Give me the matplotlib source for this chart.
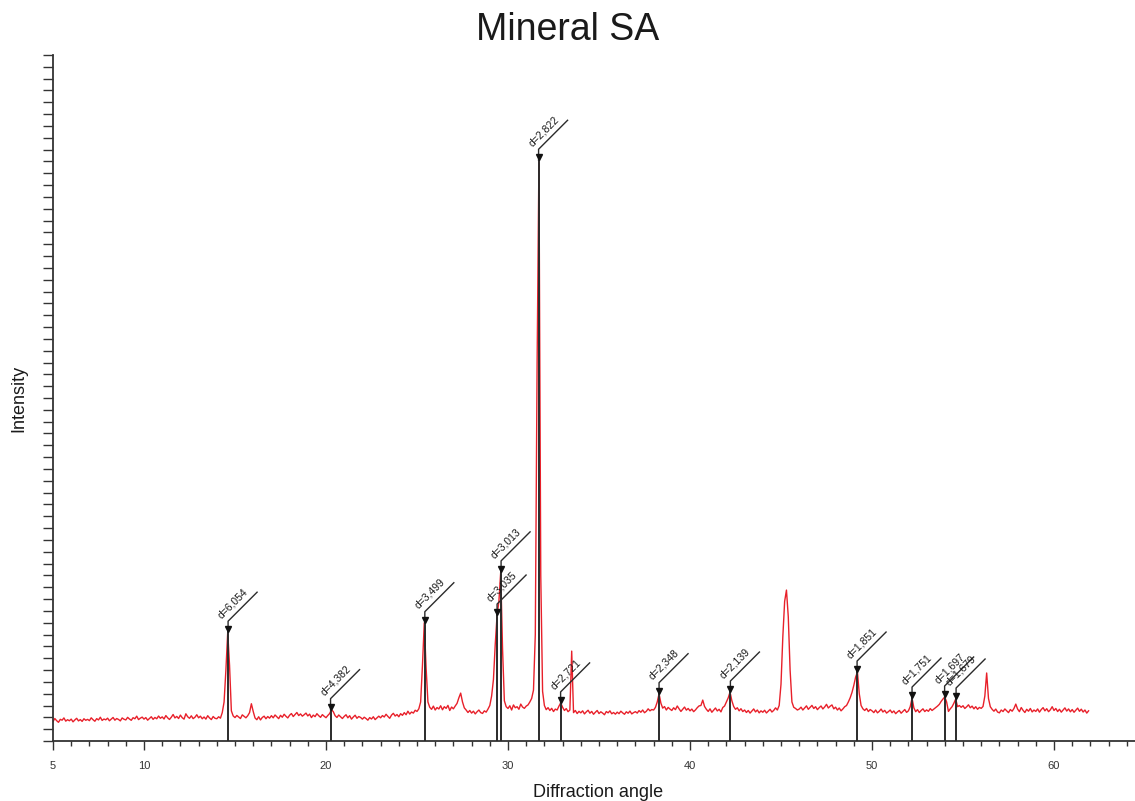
import numpy as np
import matplotlib
matplotlib.use('Agg')
import matplotlib.pyplot as plt
from matplotlib.ticker import MultipleLocator, FixedLocator

plt.rcParams['font.family'] = ['Liberation Sans', 'DejaVu Sans']

#------------------- scan, 0.1 deg step from 5.0 deg -------------------
start_2theta = 5.0
step_2theta = 0.1

int_05_15 = [165, 190, 172, 158, 183, 176, 195, 168, 180, 171,
             185, 162, 178, 192, 170, 181, 166, 188, 175, 183,
             172, 196, 180, 167, 189, 178, 201, 174, 186, 179,
             193, 171, 185, 199, 176, 190, 182, 170, 195, 184,
             178, 200, 186, 175, 197, 188, 210, 181, 193, 202,
             185, 198, 176, 190, 205, 183, 199, 188, 211, 192,
             204, 186, 215, 196, 182, 201, 224, 195, 208, 190,
             219, 197, 185, 230, 205, 192, 213, 189, 201, 222,
             196, 210, 188, 203, 185, 214, 195, 181, 207, 192,
             188, 205, 193, 240, 330, 600, 920, 640, 255, 212]
int_15_25 = [198, 216, 203, 190, 221, 208, 196, 214, 240, 315,
             250, 195, 180, 205, 178, 199, 210, 188, 207, 193,
             214, 196, 220, 205, 189, 217, 201, 226, 209, 195,
             218, 232, 207, 224, 241, 215, 229, 210, 222, 236,
             212, 227, 198, 219, 206, 231, 214, 200, 223, 209,
             197, 216, 232, 265, 248, 214, 199, 220, 205, 190,
             208, 222, 196, 214, 185, 203, 218, 192, 207, 199,
             185, 201, 190, 176, 198, 186, 205, 181, 195, 210,
             196, 215, 203, 226, 208, 192, 219, 234, 211, 224,
             205, 231, 217, 240, 222, 252, 228, 245, 236, 260]
int_25_35 = [250, 272, 330, 640, 1000, 620, 330, 285, 268, 295,
             262, 283, 271, 298, 264, 290, 276, 301, 258, 287,
             272, 296, 318, 365, 405, 330, 280, 262, 241, 258,
             236, 252, 229, 247, 262, 240, 233, 255, 244, 270,
             300, 380, 520, 820, 1065, 1180, 1430, 780, 340, 290,
             275, 298, 262, 305, 281, 290, 268, 312, 287, 276,
             295, 305, 330, 360, 430, 900, 3200, 4910, 1400, 420,
             300, 265, 282, 258, 276, 249, 270, 262, 295, 322,
             285, 258, 274, 248, 262, 760, 240, 258, 232, 251,
             238, 255, 229, 246, 260, 235, 250, 226, 243, 258]
int_35_45 = [232, 247, 236, 222, 249, 238, 255, 230, 241, 227,
             244, 231, 252, 238, 226, 247, 235, 253, 229, 240,
             248, 236, 257, 243, 262, 239, 251, 272, 255, 266,
             262, 284, 330, 400, 320, 278, 291, 262, 284, 270,
             258, 281, 265, 296, 272, 250, 268, 287, 261, 275,
             255, 270, 248, 263, 282, 297, 300, 346, 292, 268,
             250, 272, 243, 261, 279, 254, 268, 246, 283, 296,
             330, 365, 414, 340, 292, 268, 281, 255, 273, 249,
             262, 241, 258, 236, 253, 271, 246, 262, 238, 255,
             243, 260, 237, 252, 268, 245, 259, 280, 262, 300]
int_45_55 = [480, 880, 1180, 1276, 1050, 600, 330, 285, 275, 262,
             270, 286, 262, 279, 297, 268, 284, 301, 275, 290,
             265, 282, 296, 271, 288, 310, 279, 294, 305, 272,
             286, 262, 279, 255, 271, 290, 300, 330, 365, 410,
             470, 540, 583, 400, 300, 272, 258, 275, 249, 266,
             255, 240, 262, 238, 251, 270, 245, 259, 236, 248,
             262, 239, 254, 231, 246, 258, 235, 250, 266, 242,
             255, 290, 363, 280, 248, 265, 241, 258, 272, 249,
             263, 251, 274, 258, 270, 282, 295, 310, 335, 355,
             372, 330, 250, 272, 290, 320, 355, 290, 300, 285]
int_55_62 = [298, 275, 289, 306, 281, 295, 272, 290, 268, 284,
             276, 292, 380, 575, 360, 290, 268, 252, 270, 245,
             238, 262, 249, 271, 255, 240, 266, 252, 275, 312,
             270, 248, 283, 259, 241, 268, 252, 275, 246, 262,
             250, 271, 244, 266, 282, 255, 273, 248, 264, 290,
             258, 275, 249, 268, 244, 262, 280, 253, 271, 247,
             266, 243, 260, 278, 251, 269, 245, 262, 236, 255]

#------------------- marked peaks -------------------
peak_2theta = [14.62, 20.25, 25.43, 29.40, 29.62, 31.68, 32.89,
               38.30, 42.22, 49.18, 52.20, 53.99, 54.62]
peak_height = [920, 265, 1000, 1065, 1430, 4910, 322,
               400, 414, 583, 363, 372, 355]
peak_label = ['d=6,054', 'd=4,382', 'd=3,499', 'd=3,035', 'd=3,013', 'd=2,822', 'd=2,721',
              'd=2,348', 'd=2,139', 'd=1,851', 'd=1,751', 'd=1,697', 'd=1,679']

intensity = np.array(int_05_15 + int_15_25 + int_25_35 + int_35_45 + int_45_55 + int_55_62)
tth = start_2theta + step_2theta * np.arange(len(intensity))

fig = plt.figure(figsize=(11.35, 8.01), dpi=100)
ax = fig.add_axes([53/1135, 60/801, 1082/1135, 686/801])

ax.plot(tth, intensity, color='#e8202a', lw=1.0, zorder=2)
ax.set_xlim(5, 5 + 1082/18.2)
ax.set_ylim(0, 5800)

for s in ['top', 'right']:
    ax.spines[s].set_visible(False)
for s in ['left', 'bottom']:
    ax.spines[s].set_color('#333333')
    ax.spines[s].set_linewidth(1.3)

ax.xaxis.set_major_locator(FixedLocator([5, 10, 20, 30, 40, 50, 60]))
ax.xaxis.set_minor_locator(MultipleLocator(1))
ax.yaxis.set_major_locator(MultipleLocator(100))
ax.tick_params(axis='x', which='major', length=6.5, width=1, color='#333333',
               labelsize=8, labelcolor='#333333', pad=8)
ax.tick_params(axis='x', which='minor', length=3.5, width=1, color='#333333')
ax.tick_params(axis='y', which='major', length=7, width=1, color='#333333', labelleft=False)

ax.set_xlabel('Diffraction angle', fontsize=13, color='#1a1a1a')
ax.xaxis.set_label_coords(0.504, -0.0627)
ax.set_ylabel('Intensity', fontsize=13, color='#1a1a1a')
ax.yaxis.set_label_coords(-0.024, 0.5)

fig.text(0.5, 1 - 30/801, 'Mineral SA', ha='center', va='center', fontsize=27, color='#1a1a1a')

def shift(x, y, dx, dy):
    # move a data point by (dx, dy) pixels
    X, Y = ax.transData.transform((x, y))
    return ax.transData.inverted().transform((X + dx, Y + dy))

for p, h, lab in zip(peak_2theta, peak_height, peak_label):
    ax.plot([p, p], [0, h], color='#2b2b2b', lw=1.4, zorder=3)
    mx, my = shift(p, h, 0, 3)
    ax.plot(mx, my, marker='v', ms=5, color='#111111', zorder=4)
    x1, y1 = shift(p, h, 0, 11)
    x2, y2 = shift(p, h, 29, 40)
    ax.plot([p, x1, x2], [h, y1, y2], color='#2b2b2b', lw=1.0, zorder=3, clip_on=False)
    tx, ty = shift(p, h, -5, 12)
    ax.text(tx, ty, lab, rotation=45, rotation_mode='anchor', ha='left', va='bottom',
            fontsize=7.5, color='#1a1a1a', zorder=5)

fig.savefig('out.png', dpi=100)
